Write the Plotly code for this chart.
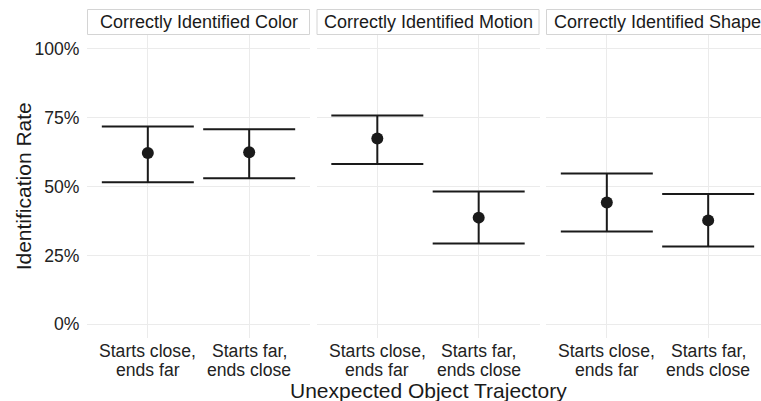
import plotly.graph_objects as go

facets = ["Correctly Identified Color", "Correctly Identified Motion", "Correctly Identified Shape"]
trajectories = ["Starts close, ends far", "Starts far, ends close"]
tick_lines = [["Starts close,", "ends far"], ["Starts far,", "ends close"]]

rate = [[0.622, 0.624], [0.674, 0.387], [0.442, 0.377]]
upper = [[0.718, 0.708], [0.758, 0.482], [0.547, 0.473]]
lower = [[0.515, 0.530], [0.582, 0.293], [0.337, 0.282]]

y_ticks = [0, 0.25, 0.5, 0.75, 1.0]
y_ticktext = ["0%", "25%", "50%", "75%", "100%"]

W, H = 761, 401
ML, MT, MB = 87, 35, 62.7
plot_w = W - ML
plot_h = H - MT - MB
panel_w = 223
gap = 6.5
ppu = panel_w / 2.2  # pixels per category unit

INK = "#1a1a1a"
FONT = "Liberation Sans, Arial, sans-serif"

fig = go.Figure()
layout = dict(
    width=W, height=H,
    margin=dict(l=ML, r=0, t=MT, b=MB, pad=0),
    plot_bgcolor="white", paper_bgcolor="white",
    showlegend=False,
    font=dict(family=FONT, color=INK, size=17.6),
)
annotations = []
shapes = []

def px2x(px):
    return (px - ML) / plot_w

def py2y(py):
    return (H - MB - py) / plot_h

for i, name in enumerate(facets):
    left = ML + i * (panel_w + gap)
    right_full = left + panel_w
    right = min(right_full, W)
    d0, d1 = px2x(left), px2x(right)
    xr = [-0.6, -0.6 + (right - left) / ppu]
    sfx = "" if i == 0 else str(i + 1)
    xa = "x" + sfx
    ya = "y" + sfx
    err_plus = [u - r for u, r in zip(upper[i], rate[i])]
    err_minus = [r - l for r, l in zip(rate[i], lower[i])]
    fig.add_trace(go.Scatter(
        x=trajectories, y=rate[i], mode="markers",
        marker=dict(size=12, color=INK),
        error_y=dict(type="data", array=err_plus, arrayminus=err_minus,
                     width=46, thickness=2, color=INK, symmetric=False),
        xaxis=xa, yaxis=ya, cliponaxis=False,
    ))
    layout["xaxis" + sfx] = dict(
        domain=[d0, d1], range=xr, type="category",
        categoryorder="array", categoryarray=trajectories,
        showgrid=True, gridcolor="#ebebeb", gridwidth=1.2,
        showticklabels=False, zeroline=False, showline=False, ticks="",
        anchor=ya,
    )
    layout["yaxis" + sfx] = dict(
        domain=[0, 1], range=[-0.05, 1.05],
        tickvals=y_ticks, ticktext=y_ticktext,
        showticklabels=(i == 0),
        ticks="outside" if i == 0 else "", ticklen=3, tickcolor="rgba(0,0,0,0)",
        tickfont=dict(size=17.6, color="#222222"),
        showgrid=True, gridcolor="#ebebeb", gridwidth=1.2,
        zeroline=False, showline=False, anchor=xa,
    )
    # strip
    shapes.append(dict(type="rect", xref="paper", yref="paper",
                       x0=px2x(left + 0.5), x1=px2x(right_full - 0.5),
                       y0=py2y(34.5), y1=py2y(9.5),
                       line=dict(color="#d4d4d4", width=1), fillcolor="white",
                       layer="above"))
    annotations.append(dict(text=name, xref="paper", yref="paper",
                            x=px2x((left + right_full) / 2), y=py2y(22),
                            xanchor="center", yanchor="middle", showarrow=False,
                            font=dict(size=18, color=INK)))
    # tick labels
    for j, cat in enumerate(trajectories):
        for k, line in enumerate(tick_lines[j]):
            annotations.append(dict(text=line, xref=xa, yref="paper",
                                    x=cat, y=py2y(351.5 + k * 18.5),
                                    xanchor="center", yanchor="middle",
                                    showarrow=False,
                                    font=dict(size=17.6, color="#222222")))

annotations.append(dict(text="Unexpected Object Trajectory", xref="paper", yref="paper",
                        x=px2x(428), y=py2y(390.5), xanchor="center", yanchor="middle",
                        showarrow=False, font=dict(size=21, color=INK)))
annotations.append(dict(text="Identification Rate", xref="paper", yref="paper",
                        x=px2x(23), y=py2y(186.5), xanchor="center", yanchor="middle",
                        textangle=-90, showarrow=False, font=dict(size=21, color=INK)))

layout["annotations"] = annotations
layout["shapes"] = shapes
fig.update_layout(**layout)
fig.write_html(
    "out.html",
    config={"displayModeBar": False},
    post_script="document.body.style.margin='0';document.body.style.overflow='hidden';",
)
